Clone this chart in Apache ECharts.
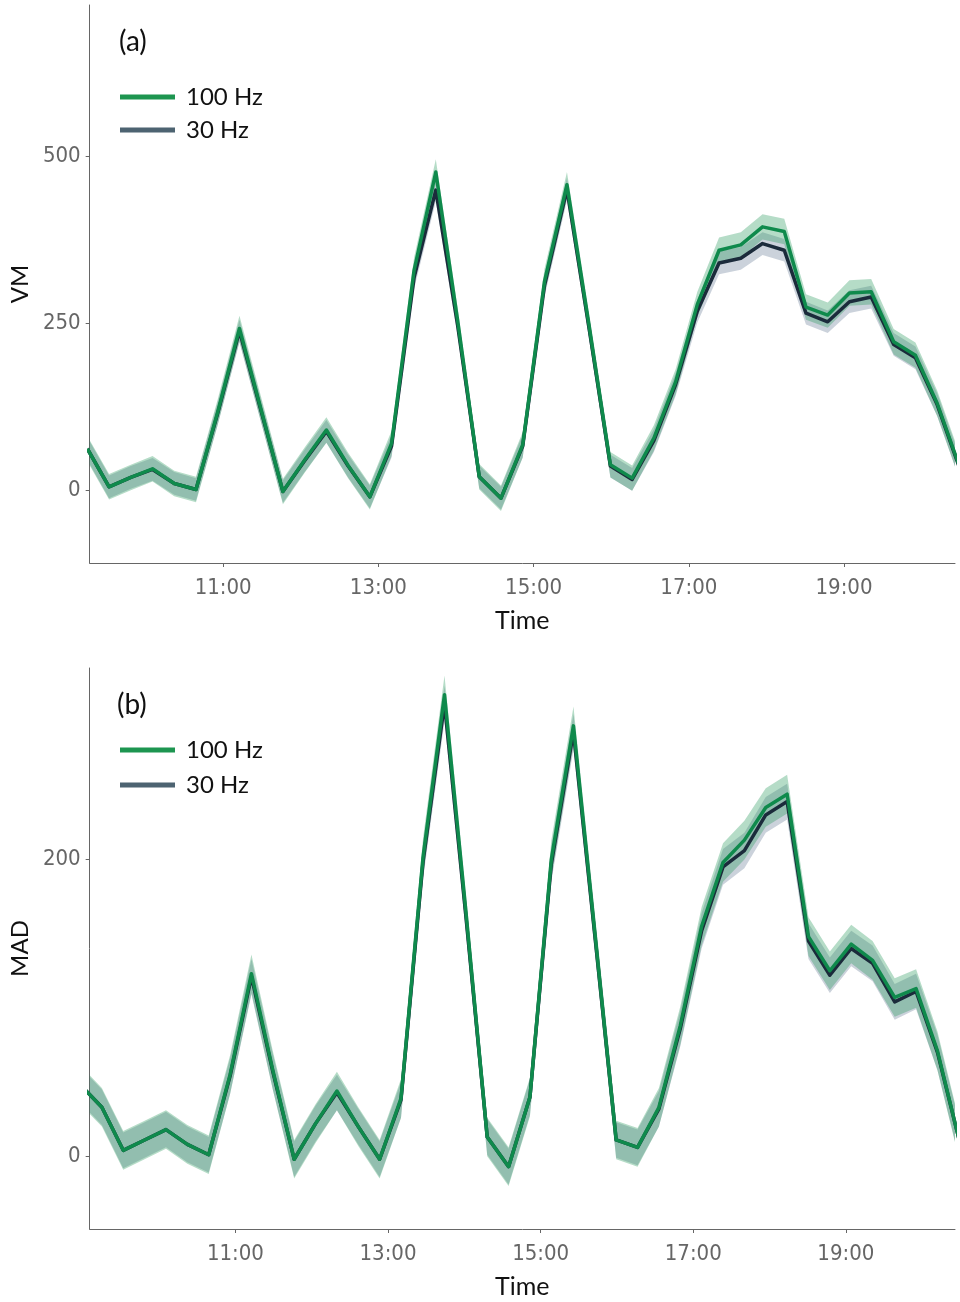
<!DOCTYPE html>
<html>
<head>
<meta charset="utf-8">
<script src="https://cdn.jsdelivr.net/npm/echarts@6/dist/echarts.min.js"></script>
<style>
html,body{margin:0;padding:0;background:#fff;}
#chart{width:960px;height:1302px;}
</style>
</head>
<body>
<div id="chart"></div>
<script>
// Time of each epoch, decimal hours
const time = [8.97, 9.25, 9.53, 9.81, 10.09, 10.37, 10.65, 10.93, 11.21, 11.49, 11.77, 12.05, 12.33, 12.61, 12.89, 13.17, 13.46, 13.74, 14.02, 14.30, 14.58, 14.86, 15.14, 15.43, 15.71, 15.99, 16.27, 16.55, 16.83, 17.11, 17.39, 17.67, 17.95, 18.23, 18.51, 18.79, 19.07, 19.35, 19.64, 19.92, 20.20, 20.48];
// panel (a) starts one epoch later
const timeVM = time.slice(1);

const vm100 = [62, 5, 19, 32, 10, 1, 117, 242, 120, -2, 45, 90, 37, -10, 70, 329, 476, 255, 20, -12, 68, 312, 457, 250, 38, 18, 78, 162, 278, 359, 367, 394, 387, 274, 262, 295, 297, 222, 202, 130, 38];
const vm30  = [62, 5, 19, 31, 10, 1, 115, 238, 118, -2, 44, 88, 36, -10, 66, 318, 449, 248, 20, -12, 66, 306, 450, 246, 36, 16, 74, 158, 268, 340, 347, 369, 359, 265, 252, 282, 289, 218, 198, 128, 36];

const mad100 = [48, 33, 4, 11, 18, 8, 1, 55, 123, 58, -2, 22, 44, 20, -2, 39, 202, 311, 165, 13, -7, 40, 200, 290, 151, 11, 6, 33, 88, 155, 198, 213, 235, 244, 148, 125, 143, 132, 107, 113, 71, 12];
const mad30  = [48, 33, 4, 11, 18, 8, 1, 54, 121, 57, -2, 22, 43, 20, -2, 38, 199, 305, 162, 13, -7, 40, 197, 286, 149, 11, 6, 32, 86, 152, 195, 206, 230, 239, 145, 122, 140, 130, 104, 111, 70, 12];

// half-width of confidence ribbons
const ciVM100 = 19, ciVM30 = 17;
const ciMAD100 = 13, ciMAD30 = 12;

const xTicks = [11, 13, 15, 17, 19];
const vmTicks = [0, 250, 500];
const madTicks = [0, 200];

const seriesNames = ['100 Hz', '30 Hz'];

const C100 = '#0f8a4c', C30 = '#1b2b3b';
const L100 = '#1d9550', L30 = '#4d6371';
const B100 = 'rgba(30,150,85,0.33)', B30 = 'rgba(70,95,125,0.28)';

const tickFont = 'DejaVu Sans Condensed, Liberation Sans Narrow, DejaVu Sans';
const textFont = 'Lato, Open Sans, sans-serif';

function band(idx, times, vals, ci, color) {
  return {
    type: 'custom', xAxisIndex: idx, yAxisIndex: idx, silent: true, clip: true, z: 1,
    animation: false,
    data: [[times[0], vals[0]]],
    renderItem: function (params, api) {
      const up = [], lo = [];
      for (let i = 0; i < times.length; i++) {
        up.push(api.coord([times[i], vals[i] + ci]));
        lo.push(api.coord([times[i], vals[i] - ci]));
      }
      const cs = params.coordSys;
      return {
        type: 'polygon',
        shape: { points: up.concat(lo.reverse()) },
        style: { fill: color },
        clipPath: { type: 'rect', shape: { x: cs.x, y: cs.y, width: cs.width, height: cs.height } }
      };
    }
  };
}

function line(idx, name, times, vals, color, width, z) {
  return {
    type: 'line', name: name, xAxisIndex: idx, yAxisIndex: idx,
    data: times.map((t, i) => [t, vals[i]]),
    symbol: 'none', showSymbol: false, clip: true, z: z, animation: false,
    lineStyle: { color: color, width: width, join: 'round' },
    itemStyle: { color: name === seriesNames[0] ? L100 : L30 }
  };
}

function xAxis(idx, min, max) {
  return {
    gridIndex: idx, type: 'value', min: min, max: max,
    axisLine: { show: true, onZero: false, lineStyle: { color: '#666', width: 1 } },
    axisTick: { show: true, length: 4, customValues: xTicks, lineStyle: { color: '#666' } },
    axisLabel: { customValues: xTicks, formatter: v => v + ':00', fontSize: 22, color: '#666', fontFamily: tickFont, margin: 14 },
    splitLine: { show: false },
    name: 'Time', nameLocation: 'middle', nameGap: 45,
    nameTextStyle: { fontSize: 25, fontFamily: textFont, color: '#111' }
  };
}

function yAxis(idx, min, max, ticks, name) {
  return {
    gridIndex: idx, type: 'value', min: min, max: max,
    axisLine: { show: true, onZero: false, lineStyle: { color: '#666', width: 1 } },
    axisTick: { show: true, length: 4, customValues: ticks, lineStyle: { color: '#666' } },
    axisLabel: { customValues: ticks, fontSize: 22, color: '#666', fontFamily: tickFont, margin: 9 },
    splitLine: { show: false },
    name: name, nameLocation: 'middle', nameGap: 56, nameRotate: 90,
    nameTextStyle: { fontSize: 24, fontFamily: textFont, color: '#111' }
  };
}

function legend(top, gap) {
  return {
    left: 120, top: top, orient: 'vertical', icon: 'rect',
    itemWidth: 55, itemHeight: 5, itemGap: gap, padding: 0,
    textStyle: { fontSize: 24, fontFamily: textFont, color: '#111', lineHeight: 24, padding: [0, 0, 0, 6] },
    data: [
      { name: seriesNames[0], itemStyle: { color: L100 } },
      { name: seriesNames[1], itemStyle: { color: L30 } }
    ]
  };
}

const chart = echarts.init(document.getElementById('chart'), null, { renderer: 'canvas' });
chart.setOption({
  animation: false,
  backgroundColor: '#fff',
  grid: [
    { left: 87, right: 5, top: 5, height: 558 },
    { left: 87, right: 5, top: 668, height: 561 }
  ],
  xAxis: [xAxis(0, 9.28, 20.43), xAxis(1, 9.09, 20.43)],
  yAxis: [yAxis(0, -109, 726, vmTicks, 'VM'), yAxis(1, -49, 329, madTicks, 'MAD')],
  legend: [legend(85, 9), legend(738, 11)],
  graphic: [
    { type: 'text', left: 119, top: 28, style: { text: '(a)', fontSize: 28, fontFamily: textFont, fill: '#111' } },
    { type: 'text', left: 117, top: 691, style: { text: '(b)', fontSize: 28, fontFamily: textFont, fill: '#111' } }
  ],
  series: [
    band(0, timeVM, vm30, ciVM30, B30),
    band(0, timeVM, vm100, ciVM100, B100),
    line(0, seriesNames[1], timeVM, vm30, C30, 3.5, 3),
    line(0, seriesNames[0], timeVM, vm100, C100, 3.5, 4),
    band(1, time, mad30, ciMAD30, B30),
    band(1, time, mad100, ciMAD100, B100),
    line(1, seriesNames[1], time, mad30, C30, 3.5, 3),
    line(1, seriesNames[0], time, mad100, C100, 3.5, 4)
  ]
});
</script>
</body>
</html>
